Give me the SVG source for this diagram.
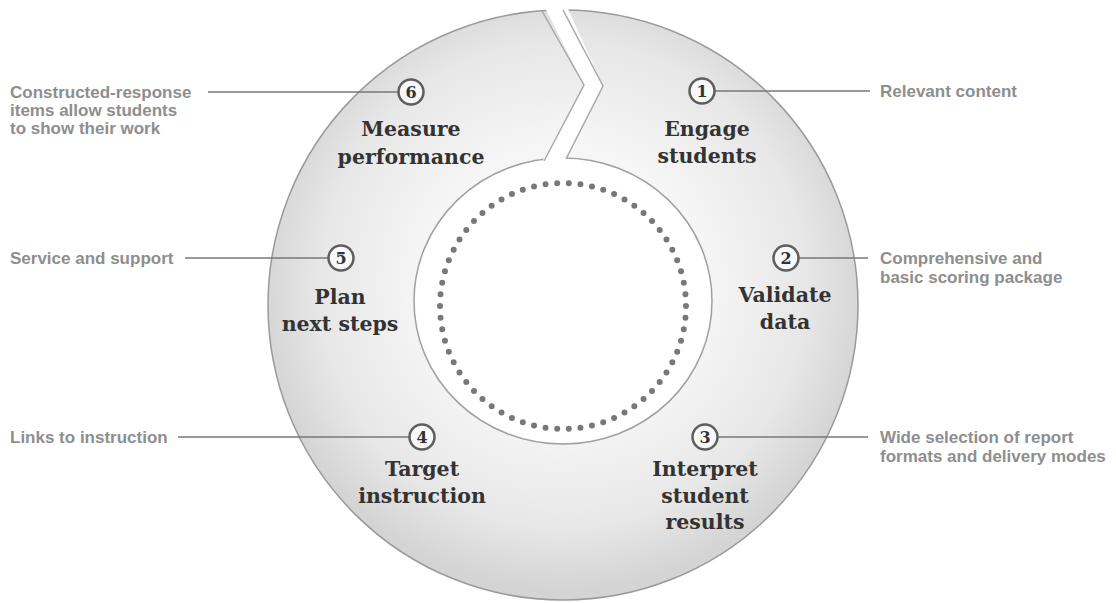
<svg xmlns="http://www.w3.org/2000/svg" width="1116" height="603" viewBox="0 0 1116 603">
<style>
.note{font-family:"Liberation Sans",Arial,sans-serif;font-weight:bold;font-size:17px;fill:#8e8e8e;}
.step{font-family:"DejaVu Serif","Liberation Serif",serif;font-weight:bold;font-size:20.5px;fill:#333;text-anchor:middle;}
.num{font-family:"DejaVu Serif","Liberation Serif",serif;font-weight:bold;font-size:16px;fill:#333;text-anchor:middle;}
.badge{fill:#f8f8f8;stroke:#5e5e5e;stroke-width:2.5;}
.lead{stroke:#777;stroke-width:1.5;fill:none;}
.edge{stroke:#a8a8a8;stroke-width:1.5;fill:none;}
</style>
<defs>
<radialGradient id="ringg" cx="563" cy="285" r="305" gradientUnits="userSpaceOnUse">
<stop offset="0.45" stop-color="#f6f6f6"/>
<stop offset="0.8" stop-color="#e7e7e7"/>
<stop offset="1" stop-color="#d4d4d4"/>
</radialGradient>
</defs>
<rect width="1116" height="603" fill="#fff"/>
<g id="ring">
<circle cx="563" cy="305" r="295" fill="url(#ringg)" stroke="#9a9a9a" stroke-width="1.5"/>
<ellipse cx="563" cy="301" rx="149" ry="143" fill="#fff" stroke="#a0a0a0" stroke-width="1.5"/>
<polygon points="541,0 564,0 603,86 566,160 543,160 584,85" fill="#fff"/>
<polyline class="edge" points="542,11 584,85 544,161"/>
<polyline class="edge" points="563,10 603,86 566,159"/>
<circle cx="563" cy="306" r="123" fill="none" stroke="#787878" stroke-width="6" stroke-linecap="round" stroke-dasharray="0 11.7095" pathLength="772.827"/>
</g>
<g id="connectors">
<line class="lead" x1="208" y1="92" x2="398" y2="92"/>
<line class="lead" x1="715" y1="91" x2="870" y2="91"/>
<line class="lead" x1="185" y1="258" x2="328" y2="258"/>
<line class="lead" x1="799" y1="258" x2="868" y2="258"/>
<line class="lead" x1="178" y1="437" x2="409" y2="437"/>
<line class="lead" x1="718" y1="437" x2="868" y2="437"/>
</g>
<g id="step1">
<circle class="badge" cx="702" cy="91" r="12.5"/>
<text class="num" x="702" y="97">1</text>
<text class="step" x="707" y="136">Engage</text>
<text class="step" x="707" y="163">students</text>
<text class="note" x="880" y="97">Relevant content</text>
</g>
<g id="step2">
<circle class="badge" cx="786" cy="258" r="12.5"/>
<text class="num" x="786" y="264">2</text>
<text class="step" x="785" y="302">Validate</text>
<text class="step" x="785" y="329">data</text>
<text class="note" x="880" y="264">Comprehensive and</text>
<text class="note" x="880" y="283">basic scoring package</text>
</g>
<g id="step3">
<circle class="badge" cx="705" cy="437" r="12.5"/>
<text class="num" x="705" y="443">3</text>
<text class="step" x="705" y="476">Interpret</text>
<text class="step" x="705" y="503">student</text>
<text class="step" x="705" y="529">results</text>
<text class="note" x="880" y="443">Wide selection of report</text>
<text class="note" x="880" y="462">formats and delivery modes</text>
</g>
<g id="step4">
<circle class="badge" cx="422" cy="437" r="12.5"/>
<text class="num" x="422" y="443">4</text>
<text class="step" x="422" y="476">Target</text>
<text class="step" x="422" y="503">instruction</text>
<text class="note" x="10" y="443">Links to instruction</text>
</g>
<g id="step5">
<circle class="badge" cx="341" cy="258" r="12.5"/>
<text class="num" x="341" y="264">5</text>
<text class="step" x="340" y="304">Plan</text>
<text class="step" x="340" y="331">next steps</text>
<text class="note" x="10" y="264">Service and support</text>
</g>
<g id="step6">
<circle class="badge" cx="411" cy="92" r="12.5"/>
<text class="num" x="411" y="98">6</text>
<text class="step" x="411" y="136">Measure</text>
<text class="step" x="411" y="164">performance</text>
<text class="note" x="10" y="98">Constructed-response</text>
<text class="note" x="10" y="116">items allow students</text>
<text class="note" x="10" y="134">to show their work</text>
</g>
</svg>
